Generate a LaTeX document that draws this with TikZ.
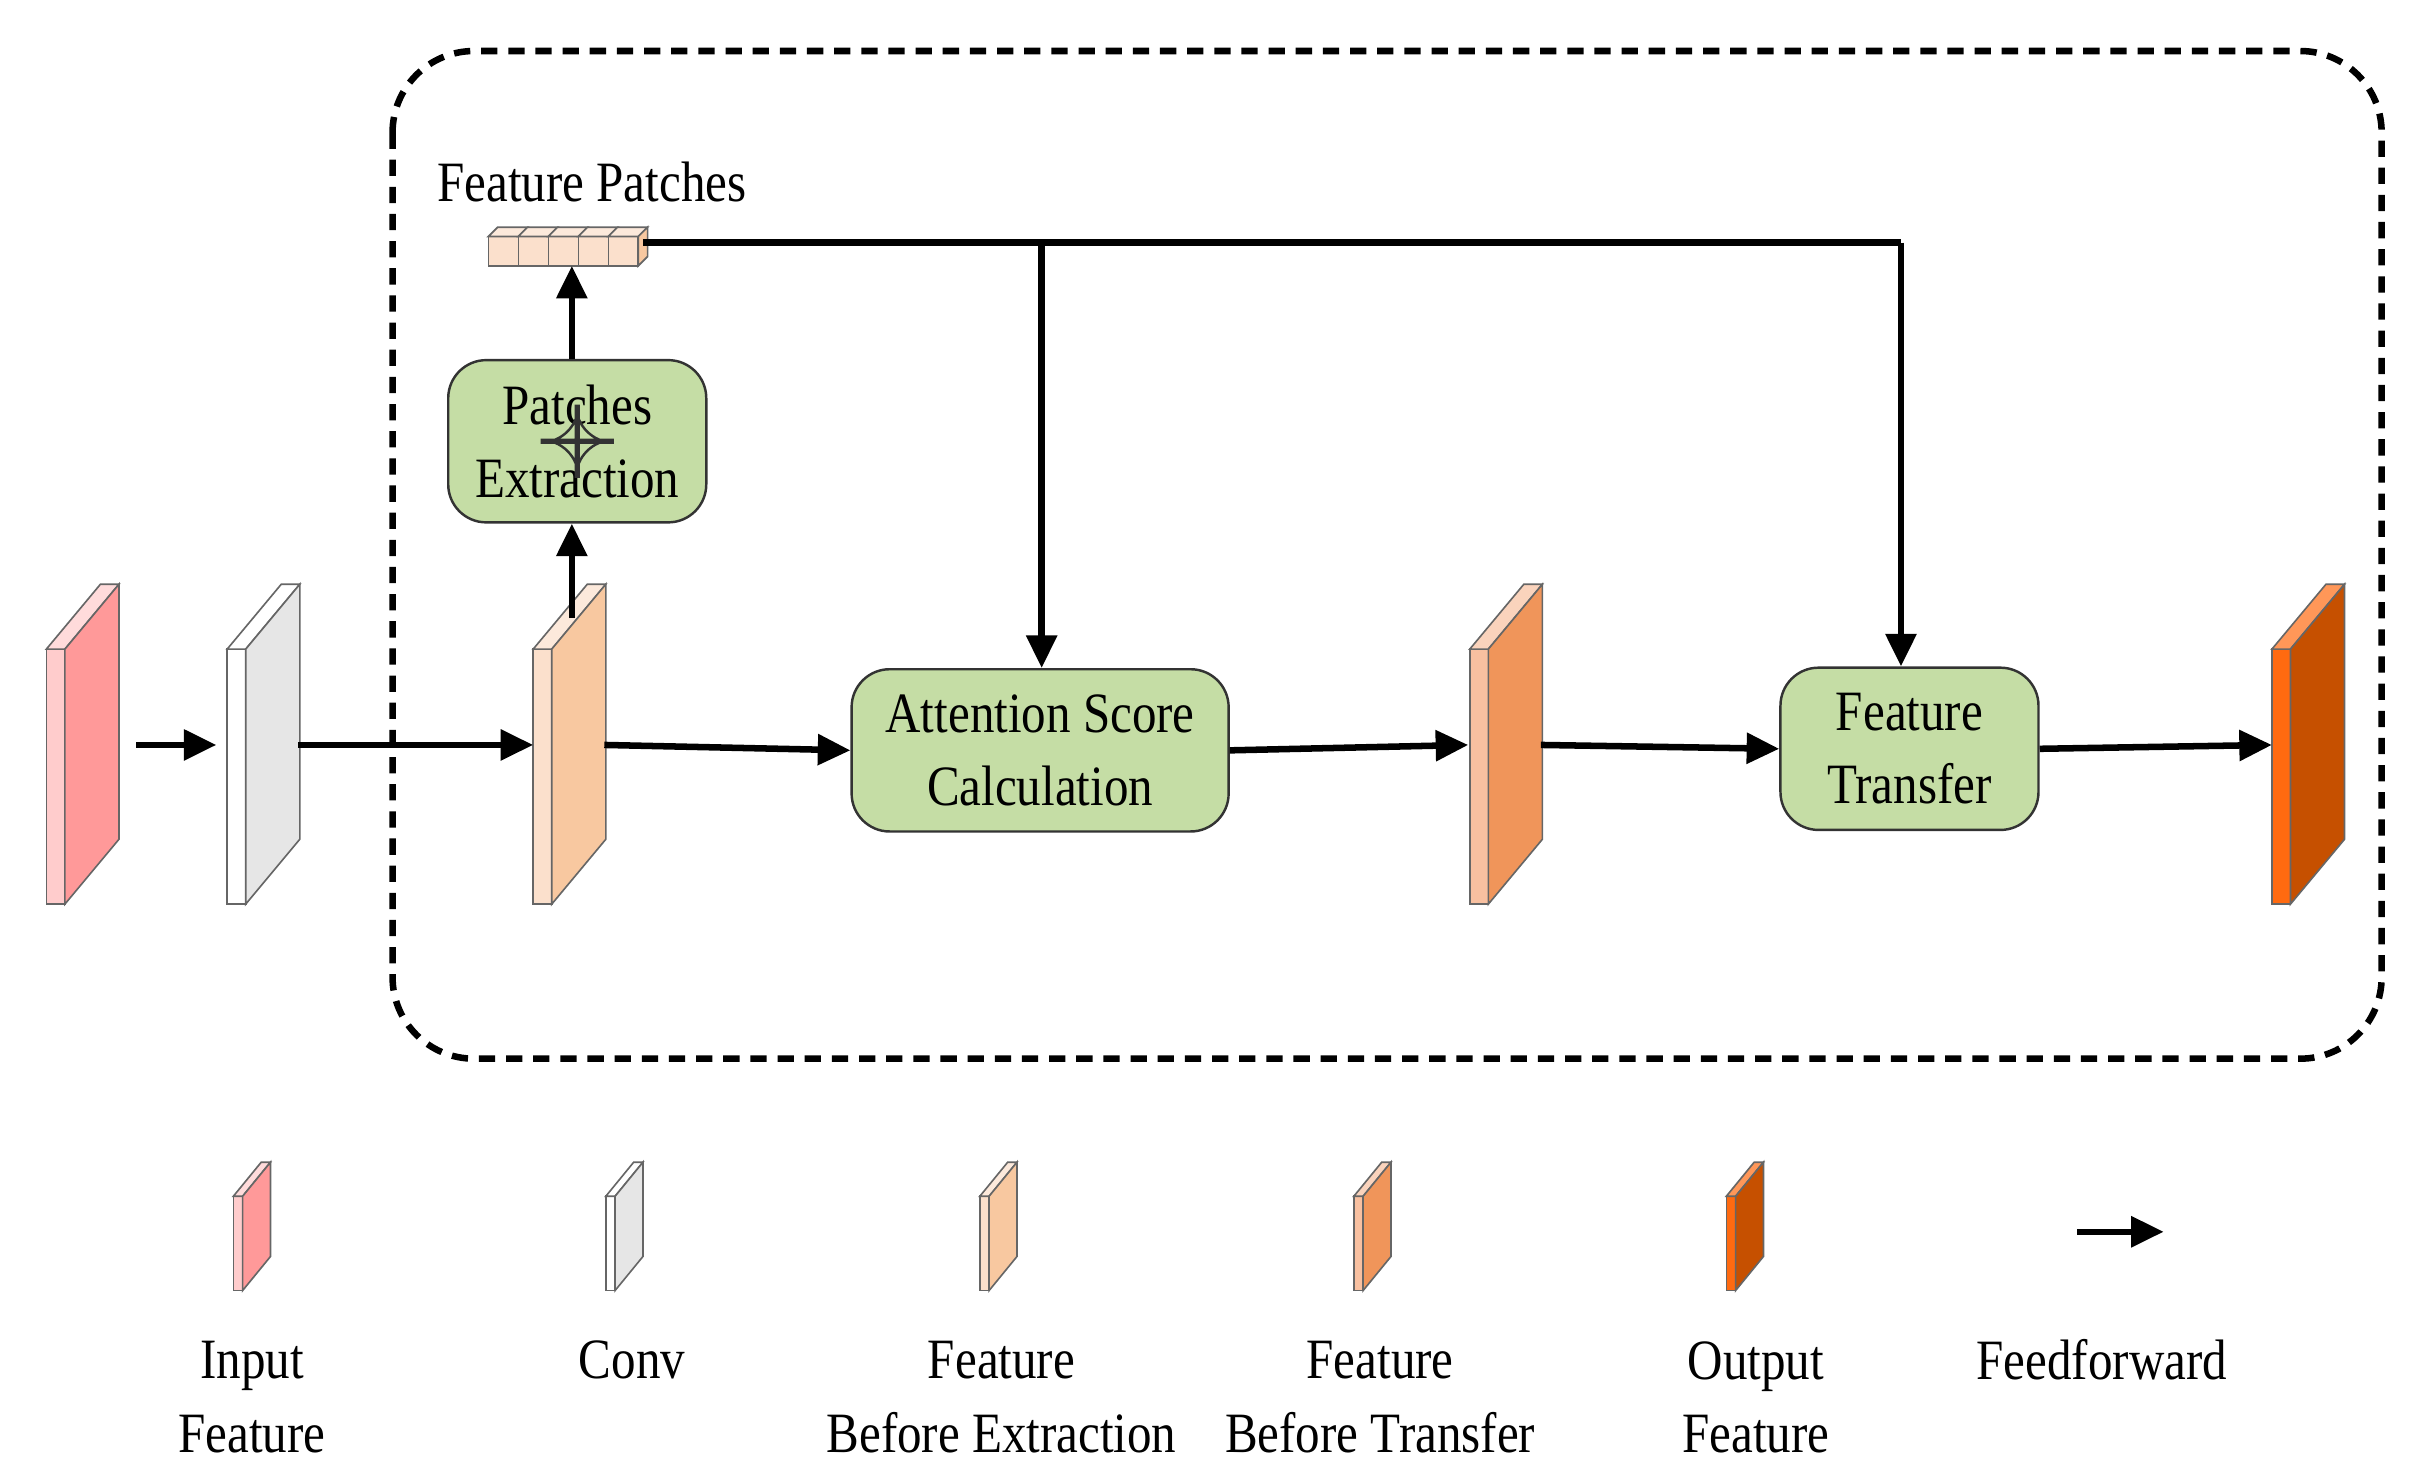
\documentclass[tikz,border=0pt]{standalone}
\usepackage{fontspec}
\setmainfont{Liberation Serif}[FakeStretch=0.86]
\usetikzlibrary{arrows.meta}
\definecolor{inS}{HTML}{FF9999}\definecolor{inF}{HTML}{FFCCCC}
\definecolor{cvS}{HTML}{E6E6E6}\definecolor{cvF}{HTML}{FFFFFF}
\definecolor{beS}{HTML}{F8C8A0}\definecolor{beF}{HTML}{FBE0CC}
\definecolor{btS}{HTML}{F0955A}\definecolor{btF}{HTML}{F8C0A0}
\definecolor{ouS}{HTML}{C65000}\definecolor{ouF}{HTML}{FF6A10}
\definecolor{gbox}{HTML}{C5DDA5}
\tikzset{
 arr/.style={line width=2.4pt,-{Triangle[length=12pt,width=11pt]}},
 ln/.style={line width=2.4pt},
 box/.style={draw=black!80,line width=0.9pt,fill=gbox,rounded corners=14pt,align=center,inner sep=0pt},
 txt/.style={font=\fontsize{21}{27}\selectfont,align=center,inner sep=0pt},
 edge/.style={draw=black!60,line width=0.6pt}
}
% slab: #1 x, #2 y top, #3 w, #4 h, #5 dx, #6 dy, #7 side, #8 front
\newcommand{\slab}[8]{%
 \fill[#8,edge] (#1,#2) rectangle ++(#3,#4);
 \fill[#8!70!white,edge] (#1,#2) -- ++(#3,0) -- ++(#5,-#6) -- ++(-#3,0) -- cycle;
 \fill[#7,edge] (#1+#3,#2) -- ++(#5,-#6) -- ++(0,#4) -- ++(-#5,#6) -- cycle;
}
\begin{document}
\begin{tikzpicture}[x=0.02cm,y=-0.02cm]
\useasboundingbox (0,0) rectangle (1560,960);
\draw[line width=2.4pt,dash pattern=on 6pt off 4pt,rounded corners=30pt] (254,33) rectangle (1541,685);
% big slabs
\slab{30}{420}{12}{165}{35}{42}{inS}{inF}
\slab{147}{420}{12}{165}{35}{42}{cvS}{cvF}
\slab{345}{420}{12}{165}{35}{42}{beS}{beF}
\slab{951}{420}{12}{165}{35}{42}{btS}{btF}
\slab{1470}{420}{12}{165}{35}{42}{ouS}{ouF}
\coordinate (s1) at (88,482);\coordinate (s2a) at (140,482);
\coordinate (s2) at (193,482);\coordinate (s3a) at (345,482);
\coordinate (s3) at (391,482);\coordinate (s4a) at (950,482);
\coordinate (s4) at (997,482);\coordinate (s5a) at (1470,482);
\coordinate (s3t) at (370,400);
% boxes
\node[box,minimum width=167\pgflinewidth] (pe) at (373.5,285.5) [minimum width=3.34cm,minimum height=2.1cm,txt] {Patches\\Extraction};
\node[box,txt,minimum width=4.88cm,minimum height=2.1cm] (as) at (673,485.5) {Attention Score\\Calculation};
\node[box,txt,minimum width=3.34cm,minimum height=2.1cm] (ft) at (1235.5,484.5) {Feature\\Transfer};
\node[box,draw=black!80] at (373.5,285.5) {};
% patches
\foreach \i in {0,...,4}{
 \fill[beF,edge] (316+\i*19.4,153) rectangle ++(19.4,19);
 \fill[beF!70!white,edge] (316+\i*19.4,153) -- ++(19.4,0) -- ++(6,-6) -- ++(-19.4,0) -- cycle;}
\fill[beS,edge] (413,153) -- ++(6,-6) -- ++(0,19) -- ++(-6,6) -- cycle;
\coordinate (pt) at (370,172);\coordinate (pr) at (416,157);
\node[txt] (fp) at (383,118) {Feature Patches};
% connectors
\draw[arr] (s1) -- (s2a);
\draw[arr] (s2) -- (s3a);
\draw[arr] (s3) -- (as.west);
\draw[arr] (as.east) -- (s4a);
\draw[arr] (s4) -- (ft.west);
\draw[arr] (ft.east) -- (s5a);
\draw[arr] (s3t) -- (pe.south -| s3t);
\draw[arr] (pe.north -| s3t) -- (pt);
\coordinate (j1) at (674,157);\coordinate (j2) at (1230,157);
\draw[ln] (pr) -- (j2);
\draw[arr] (j1) -- (as.north -| j1);
\draw[arr] (j2) -- (ft.north -| j2);
% legend
\slab{151}{774}{6}{61}{18}{22}{inS}{inF}
\slab{392}{774}{6}{61}{18}{22}{cvS}{cvF}
\slab{634}{774}{6}{61}{18}{22}{beS}{beF}
\slab{876}{774}{6}{61}{18}{22}{btS}{btF}
\slab{1117}{774}{6}{61}{18}{22}{ouS}{ouF}
\coordinate (la) at (1344,797);\coordinate (lb) at (1400,797);
\draw[arr] (la) -- (lb);
\node[txt] (l1) at (163,904) {Input\\Feature};
\node[txt] (l2) at (409,880) {Conv};
\node[txt] (l3) at (648,904) {Feature\\Before Extraction};
\node[txt] (l4) at (893,904) {Feature\\Before Transfer};
\node[txt] (l5) at (1136,904) {Output\\Feature};
\node[txt] (l6) at (1360,880) {Feedforward};
\end{tikzpicture}
\end{document}
